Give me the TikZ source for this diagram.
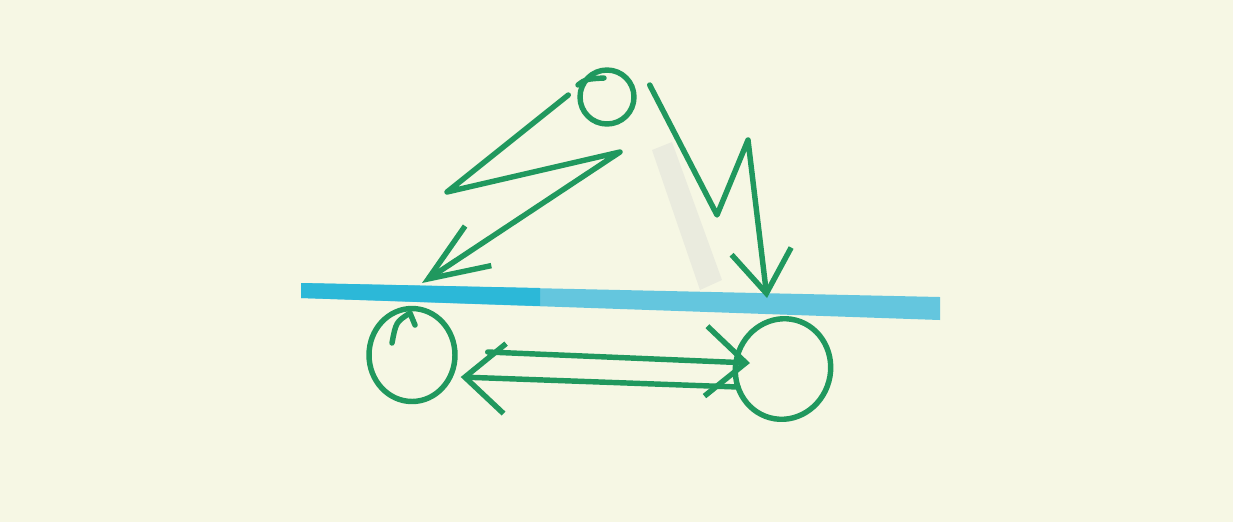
\documentclass[tikz,border=0pt]{standalone}
\usetikzlibrary{arrows.meta,shapes.geometric}

\definecolor{papel}{RGB}{246,247,228}
\definecolor{rotulador}{RGB}{32,152,94}
\definecolor{barra}{RGB}{100,198,222}
\definecolor{barraosc}{RGB}{44,184,216}

\begin{document}
\begin{tikzpicture}[
        x=0.02cm, y=-0.02cm,
        trazo/.style={draw=rotulador, line width=3.1pt, line cap=round, line join=round},
        bola/.style={trazo, ellipse, inner sep=0pt},
        rayo/.style={trazo, -{Straight Barb[length=12mm, width=9.5mm]}},
        rayocorto/.style={trazo, -{Straight Barb[length=8.5mm, width=12mm]}},
        flecha/.style={trazo, -{Straight Barb[length=8mm, width=14mm]}}
    ]
        \fill[papel] (0,0) rectangle (1233,522);

        % barra azul
        \fill[barra] (301,283) -- (940,297) -- (940,320) -- (301,298) -- cycle;
        \fill[barraosc] (301,283) -- (540,288) -- (540,306) -- (301,298) -- cycle;
        % mancha de lapiz
        \fill[gray!80!blue, opacity=0.08] (652,150) -- (672,142) -- (722,280) -- (700,290) -- cycle;

        \node[bola, minimum width=1.08cm, minimum height=1.08cm] (fuente) at (607,97) {};
        \node[bola, minimum width=1.72cm, minimum height=1.86cm] (bola-izq) at (412,355) {};
        \node[bola, minimum width=1.9cm, minimum height=2.02cm, rotate=-15] (bola-der) at (783,369) {};

        \coordinate (impacto-izq) at (422,283);
        \coordinate (impacto-der) at (767,298);

        \draw[trazo] (578,85) .. controls (586,79) .. (604,78);
        \draw[trazo] (392,343) .. controls (396,322) .. (410,313) -- (415,325);

        \draw[rayo] ([shift={(-9,-2)}]fuente.west) -- (447,192) -- (620,152) -- (impacto-izq);
        \draw[rayocorto] ([shift={(13,-12)}]fuente.east) -- (717,215) -- (748,140) -- (impacto-der);

        \draw[flecha] ([shift={(30,-3)}]bola-izq.east) -- ([shift={(-33,-6)}]bola-der.center);
        \draw[flecha] ([shift={(-45,18)}]bola-der.center) -- ([shift={(3,22)}]bola-izq.east);
    \end{tikzpicture}
\end{document}
